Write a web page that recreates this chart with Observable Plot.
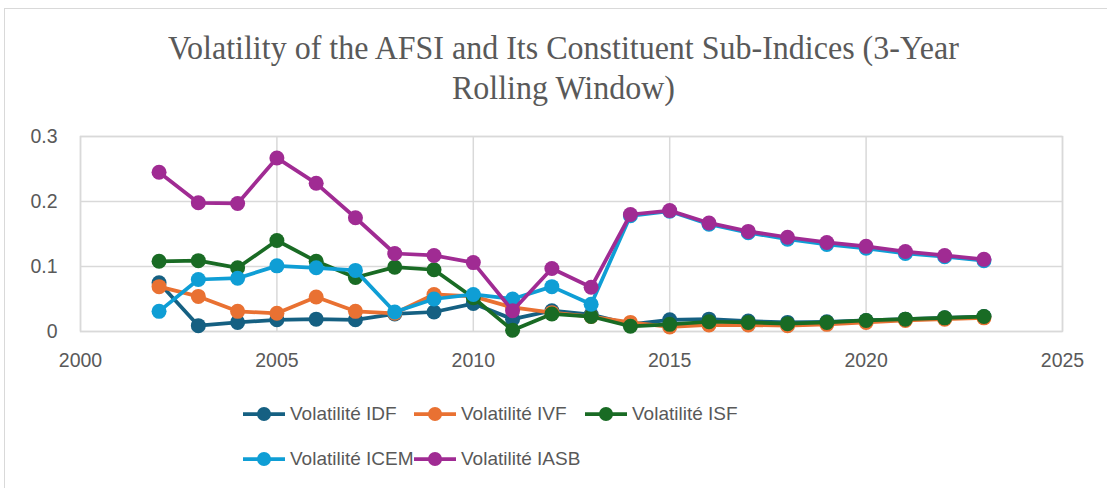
<!DOCTYPE html>
<html><head><meta charset="utf-8">
<script src="https://cdn.jsdelivr.net/npm/d3@7"></script>
<script src="https://cdn.jsdelivr.net/npm/@observablehq/plot@0.6"></script>
<style>
html,body{margin:0;padding:0;background:#fff;}
body{width:1107px;height:488px;overflow:hidden;position:relative;}
#frame{position:absolute;left:4px;top:8px;width:1120px;height:500px;border:1px solid #d9d9d9;box-sizing:border-box;}
#title{position:absolute;left:0;top:29px;width:1127px;text-align:center;font-family:"Liberation Serif",serif;font-size:32px;line-height:38px;color:#595959;transform:scaleY(1.05);}
#chart{position:absolute;left:0;top:110px;}
#legend{position:absolute;left:243px;top:401px;width:520px;display:flex;flex-wrap:wrap;row-gap:19px;font-family:"Liberation Sans",Arial,sans-serif;font-size:19px;color:#595959;}
.item{width:171px;height:26px;display:flex;align-items:center;white-space:nowrap;}
.item svg{margin-right:5px;flex:none;}
</style></head>
<body>
<div id="frame"></div>
<div id="title">Volatility of the AFSI and Its Constituent Sub-Indices (3-Year<br>Rolling Window)</div>
<div id="chart"></div>
<div id="legend"></div>
<script>
const years = [2002,2003,2004,2005,2006,2007,2008,2009,2010,2011,2012,2013,2014,2015,2016,2017,2018,2019,2020,2021,2022,2023];
const idf  = [0.075,0.009,0.014,0.018,0.019,0.018,0.027,0.030,0.043,0.019,0.032,0.026,0.011,0.018,0.019,0.016,0.014,0.015,0.017,0.019,0.021,0.023];
const ivf  = [0.069,0.054,0.031,0.028,0.053,0.031,0.028,0.057,0.054,0.037,0.029,0.023,0.014,0.007,0.010,0.010,0.009,0.011,0.014,0.017,0.019,0.021];
const isf  = [0.108,0.109,0.098,0.140,0.108,0.083,0.099,0.095,0.052,0.002,0.027,0.023,0.008,0.011,0.015,0.014,0.012,0.014,0.017,0.019,0.021,0.023];
const icem = [0.031,0.080,0.082,0.101,0.098,0.094,0.030,0.050,0.057,0.050,0.069,0.042,0.178,0.185,0.165,0.152,0.142,0.134,0.128,0.120,0.115,0.109];
const iasb = [0.245,0.198,0.197,0.267,0.228,0.175,0.120,0.117,0.106,0.032,0.097,0.068,0.180,0.186,0.167,0.154,0.145,0.137,0.131,0.123,0.117,0.111];
const seriesNames = ["Volatilité IDF","Volatilité IVF","Volatilité ISF","Volatilité ICEM","Volatilité IASB"];
const seriesColors = ["#156082","#E97132","#196B24","#0F9ED5","#A02B93"];
const xTicks = [2000,2005,2010,2015,2020,2025];
const yTicks = [0,0.1,0.2,0.3];

const seriesValues = [idf, ivf, isf, icem, iasb];
const rows = seriesNames.flatMap((name,i) => years.map((yr,j) => ({series:name, year:yr, value:seriesValues[i][j]})));

const marks = [
  Plot.gridX(xTicks, {stroke:"#d9d9d9", strokeOpacity:1, strokeWidth:1.5}),
  Plot.gridY(yTicks, {stroke:"#d9d9d9", strokeOpacity:1, strokeWidth:1.5}),
  Plot.frame({stroke:"#d9d9d9", strokeWidth:1.5}),
  Plot.axisX(xTicks, {tickSize:0, tickPadding:22, tickFormat:d => String(d), label:null, fill:"#595959", fontSize:19.5}),
  Plot.axisY(yTicks, {tickSize:0, tickPadding:23, tickFormat:d => d === 0 ? "0" : d.toFixed(1), label:null, fill:"#595959", fontSize:19.5})
];
seriesNames.forEach(name => {
  const d = rows.filter(r => r.series === name);
  marks.push(Plot.line(d, {x:"year", y:"value", stroke:"series", strokeWidth:3.75}));
  marks.push(Plot.dot(d, {x:"year", y:"value", fill:"series", r:7.5}));
});

const chart = Plot.plot({
  width:1107, height:270,
  marginLeft:80, marginRight:45, marginTop:26, marginBottom:49,
  x:{domain:[2000,2025]},
  y:{domain:[0,0.3]},
  color:{domain:seriesNames, range:seriesColors},
  style:{fontFamily:"'Liberation Sans',Arial,sans-serif", fontSize:"19.5px", color:"#595959", background:"transparent"},
  marks
});
document.getElementById("chart").appendChild(chart);

const legend = document.getElementById("legend");
seriesNames.forEach((name,i) => {
  const item = document.createElement("div");
  item.className = "item";
  item.innerHTML = `<svg width="42" height="16"><line x1="0" y1="8" x2="42" y2="8" stroke="${seriesColors[i]}" stroke-width="3.75"/><circle cx="21" cy="8" r="7" fill="${seriesColors[i]}"/></svg><span>${name}</span>`;
  legend.appendChild(item);
});
</script>
</body></html>
